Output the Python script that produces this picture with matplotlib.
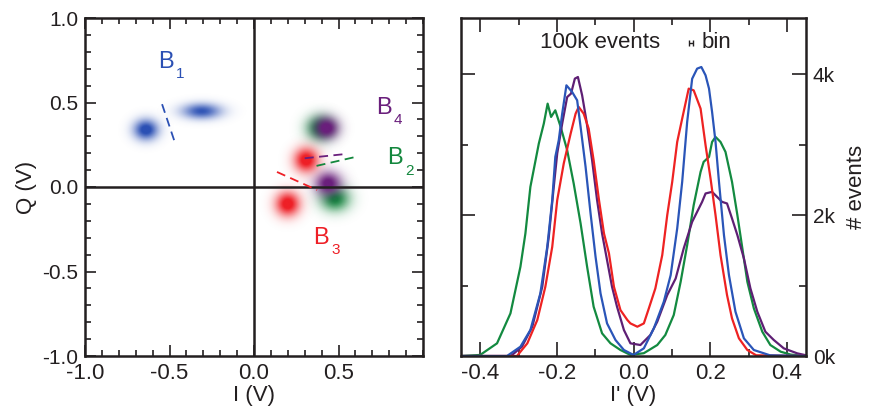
import numpy as np
import matplotlib
matplotlib.use("Agg")
import matplotlib.pyplot as plt
from matplotlib import font_manager
from matplotlib.ticker import MultipleLocator, FixedLocator, FuncFormatter

# ---------------- data ----------------
# IQ blobs (left panel)
blob_I = [-0.64, -0.31, 0.39, 0.43, 0.31, 0.48, 0.44, 0.20]
blob_Q = [0.34, 0.45, 0.35, 0.35, 0.16, -0.07, 0.02, -0.10]
blob_sI = [0.050, 0.080, 0.055, 0.050, 0.050, 0.060, 0.055, 0.050]
blob_sQ = [0.042, 0.032, 0.050, 0.045, 0.050, 0.050, 0.050, 0.050]
blob_amp = [1.0, 0.85, 0.9, 1.0, 1.0, 0.9, 0.95, 1.0]
blob_series = ["B1", "B1", "B2", "B4", "B3", "B2", "B4", "B3"]

# dashed separatrix lines (I0, Q0, I1, Q1)
sep_series = ["B1", "B3", "B4", "B2"]
sep_I0 = [-0.544, 0.136, 0.30, 0.37]
sep_Q0 = [0.49, 0.089, 0.17, 0.125]
sep_I1 = [-0.467, 0.373, 0.54, 0.61]
sep_Q1 = [0.26, -0.018, 0.195, 0.18]

# labels
lab_series = ["B1", "B4", "B2", "B3"]
lab_text = ["B", "B", "B", "B"]
lab_sub = ["1", "4", "2", "3"]
lab_I = [-0.57, 0.72, 0.79, 0.35]
lab_Q = [0.74, 0.47, 0.17, -0.30]

# histograms (right panel)
green_x = [-0.45, -0.40, -0.356, -0.321, -0.295, -0.282, -0.269, -0.247, -0.234, -0.224, -0.215,
           -0.204, -0.190, -0.173, -0.156, -0.138, -0.121, -0.104, -0.082, -0.060, -0.034, -0.008,
           0.027, 0.062, 0.083, 0.105, 0.123, 0.140, 0.157, 0.175, 0.183, 0.197, 0.205, 0.214,
           0.227, 0.240, 0.257, 0.271, 0.284, 0.297, 0.314, 0.336, 0.357, 0.384, 0.41, 0.45]
green_y = [0, 15, 180, 605, 1267, 1740, 2402, 3017, 3300, 3584, 3395,
           3489, 3253, 2922, 2449, 1882, 1267, 700, 322, 180, 85, 15,
           40, 156, 298, 582, 1054, 1574, 2142, 2615, 2757, 2827, 3040, 3111,
           3040, 2898, 2473, 2000, 1528, 1054, 676, 345, 156, 61, 20, 0]

blue_x = [-0.45, -0.33, -0.295, -0.269, -0.243, -0.225, -0.212, -0.204, -0.195, -0.186, -0.175,
          -0.160, -0.147, -0.138, -0.125, -0.112, -0.099, -0.086, -0.069, -0.047, -0.025, 0.0,
          0.027, 0.053, 0.079, 0.097, 0.114, 0.127, 0.140, 0.153, 0.166, 0.177, 0.188, 0.197,
          0.205, 0.214, 0.223, 0.236, 0.249, 0.266, 0.288, 0.314, 0.356, 0.45]
blue_y = [0, 0, 132, 369, 889, 1550, 2213, 2827, 3064, 3442, 3844,
          3749, 3631, 3253, 2685, 2024, 1409, 889, 463, 227, 85, 15,
          109, 392, 770, 1149, 1811, 2473, 3324, 3937, 4081, 4104, 3986, 3797,
          3466, 3040, 2473, 1716, 1149, 629, 251, 85, 10, 0]

red_x = [-0.45, -0.304, -0.277, -0.251, -0.230, -0.212, -0.199, -0.182, -0.164, -0.151, -0.143,
         -0.130, -0.117, -0.104, -0.090, -0.077, -0.064, -0.051, -0.034, -0.016, -0.008, 0.010,
         0.027, 0.040, 0.057, 0.075, 0.088, 0.101, 0.114, 0.127, 0.144, 0.157, 0.175, 0.188,
         0.201, 0.214, 0.227, 0.244, 0.257, 0.275, 0.297, 0.32, 0.45]
red_y = [0, 0, 180, 511, 983, 1550, 2213, 2733, 3158, 3442, 3537,
         3442, 3230, 2780, 2213, 1740, 1457, 983, 652, 511, 463, 416,
         463, 676, 960, 1433, 2000, 2473, 3040, 3371, 3797, 3773, 3513, 2993,
         2520, 2000, 1433, 865, 534, 251, 85, 10, 0]

purple_x = [-0.45, -0.32, -0.291, -0.264, -0.238, -0.221, -0.208, -0.199, -0.186, -0.173, -0.163,
            -0.153, -0.145, -0.134, -0.123, -0.108, -0.095, -0.082, -0.069, -0.056, -0.043, -0.025,
            -0.008, 0.018, 0.044, 0.062, 0.088, 0.110, 0.131, 0.153, 0.166, 0.179, 0.188, 0.205,
            0.218, 0.231, 0.244, 0.257, 0.271, 0.288, 0.305, 0.323, 0.344, 0.366, 0.392, 0.427, 0.45]
purple_y = [0, 0, 132, 416, 983, 1692, 2402, 2875, 3300, 3678, 3726,
            3939, 3962, 3702, 3348, 2780, 2213, 1740, 1362, 983, 700, 369,
            180, 156, 298, 487, 865, 1101, 1528, 1905, 2047, 2189, 2308, 2331,
            2260, 2189, 2166, 1953, 1716, 1386, 960, 629, 345, 227, 109, 38, 10]

hist_xtick = [-0.4, -0.2, 0.0, 0.2, 0.4]
hist_ytick = [0, 2000, 4000]
iq_tick = [-1.0, -0.5, 0.0, 0.5]

# ---------------- style ----------------
colors = {"B1": "#2b50b4", "B2": "#13873d", "B3": "#ee1f26", "B4": "#6a1f7c"}
line_colors = {"B1": "#2a55b8", "B2": "#138a40", "B3": "#ee2222", "B4": "#5e1f74"}

def has_font(name):
    try:
        font_manager.findfont(font_manager.FontProperties(family=name), fallback_to_default=False)
        return True
    except Exception:
        return False

main_font = "Liberation Sans" if has_font("Liberation Sans") else "DejaVu Sans"
narrow_font = "Liberation Sans Narrow" if has_font("Liberation Sans Narrow") else main_font
plt.rcParams["font.family"] = [main_font, "DejaVu Sans"]

TXT = "#231f20"
fig = plt.figure(figsize=(8.71, 4.18), dpi=100)
ax1 = fig.add_axes([85 / 871, 62 / 418, 338 / 871, 338 / 418])
ax2 = fig.add_axes([461 / 871, 62 / 418, 345 / 871, 338 / 418])

# ---------------- left panel ----------------
n = 500
gx = np.linspace(-1, 1, n)
GX, GY = np.meshgrid(gx, gx)
order = [2, 5, 0, 1, 3, 6, 4, 7]
for k in order:
    rgb = matplotlib.colors.to_rgb(colors[blob_series[k]])
    g = np.exp(-((GX - blob_I[k]) ** 2 / (2 * blob_sI[k] ** 2) + (GY - blob_Q[k]) ** 2 / (2 * blob_sQ[k] ** 2)))
    img = np.zeros((n, n, 4))
    img[..., 0], img[..., 1], img[..., 2] = rgb
    img[..., 3] = np.clip(1.15 * blob_amp[k] * g, 0, 1)
    ax1.imshow(img, extent=[-1, 1, -1, 1], origin="lower", interpolation="bilinear", zorder=1)

ax1.axvline(0, color=TXT, lw=1.8, zorder=2)
ax1.axhline(0, color=TXT, lw=1.8, zorder=2)

for s, i0, q0, i1, q1 in zip(sep_series, sep_I0, sep_Q0, sep_I1, sep_Q1):
    ax1.plot([i0, i1], [q0, q1], ls=(0, (5, 3)), color=colors[s], lw=1.3, zorder=3)

for s, t, sub, i, q in zip(lab_series, lab_text, lab_sub, lab_I, lab_Q):
    ax1.text(i, q, t, color=colors[s], fontsize=17, ha="left", va="center", zorder=4)
    ax1.annotate(sub, (i, q), xytext=(13, -9), textcoords="offset points",
                 color=colors[s], fontsize=11, ha="left", va="center", zorder=4)

ax1.set_xlim(-1, 1)
ax1.set_ylim(-1, 1)
ax1.set_aspect("auto")
ax1.xaxis.set_major_locator(FixedLocator(iq_tick))
ax1.yaxis.set_major_locator(MultipleLocator(0.5))
ax1.xaxis.set_minor_locator(MultipleLocator(0.1))
ax1.yaxis.set_minor_locator(MultipleLocator(0.1))
ax1.xaxis.set_major_formatter(FuncFormatter(lambda v, p: f"{v:.1f}"))
ax1.yaxis.set_major_formatter(FuncFormatter(lambda v, p: f"{v:.1f}"))
ax1.tick_params(which="both", direction="in", top=True, right=True, colors=TXT, width=1.2)
ax1.tick_params(which="major", length=8, labelsize=15, pad=5)
ax1.tick_params(which="minor", length=4)
ax1.tick_params(axis="x", which="major", labelsize=16)
for lab in ax1.get_xticklabels():
    lab.set_fontfamily(narrow_font)
ax1.set_xlabel("I (V)", fontsize=16, color=TXT, labelpad=1, fontfamily=narrow_font)
ax1.set_ylabel("Q (V)", fontsize=16, color=TXT, labelpad=4)
for sp in ax1.spines.values():
    sp.set_linewidth(1.8)
    sp.set_color(TXT)

# ---------------- right panel ----------------
for s, xs, ys in [("B2", green_x, green_y), ("B4", purple_x, purple_y),
                  ("B3", red_x, red_y), ("B1", blue_x, blue_y)]:
    ax2.plot(xs, ys, color=line_colors[s], lw=1.6, solid_joinstyle="round")

ax2.set_xlim(-0.45, 0.45)
ax2.set_ylim(0, 4800)
ax2.xaxis.set_major_locator(FixedLocator(hist_xtick))
ax2.xaxis.set_minor_locator(MultipleLocator(0.1))
ax2.yaxis.set_major_locator(FixedLocator(hist_ytick))
ax2.yaxis.set_minor_locator(MultipleLocator(1000))
ax2.xaxis.set_major_formatter(FuncFormatter(lambda v, p: f"{v:.1f}"))
ax2.yaxis.set_major_formatter(FuncFormatter(lambda v, p: f"{v / 1000:.0f}k"))
ax2.yaxis.tick_right()
ax2.yaxis.set_label_position("right")
ax2.tick_params(which="both", direction="in", top=True, left=True, colors=TXT, width=1.2)
ax2.tick_params(which="major", length=10, labelsize=15, pad=5)
ax2.tick_params(which="minor", length=5)
ax2.tick_params(axis="x", which="major", labelsize=16)
for lab in ax2.get_xticklabels():
    lab.set_fontfamily(narrow_font)
ax2.set_xlabel("I' (V)", fontsize=16, color=TXT, labelpad=1, fontfamily=narrow_font)
ax2.set_ylabel("# events", fontsize=16, color=TXT, labelpad=8)
for sp in ax2.spines.values():
    sp.set_linewidth(1.8)
    sp.set_color(TXT)

ax2.text(-0.086, 4450, "100k events", fontsize=16, color=TXT, ha="center", va="center")
ax2.errorbar([0.151], [4450], xerr=[[0.005], [0.005]], color=TXT, lw=1.0, capsize=2.5, capthick=1.0)
ax2.text(0.178, 4450, "bin", fontsize=16, color=TXT, ha="left", va="center")

fig.savefig("out.png", dpi=100)
